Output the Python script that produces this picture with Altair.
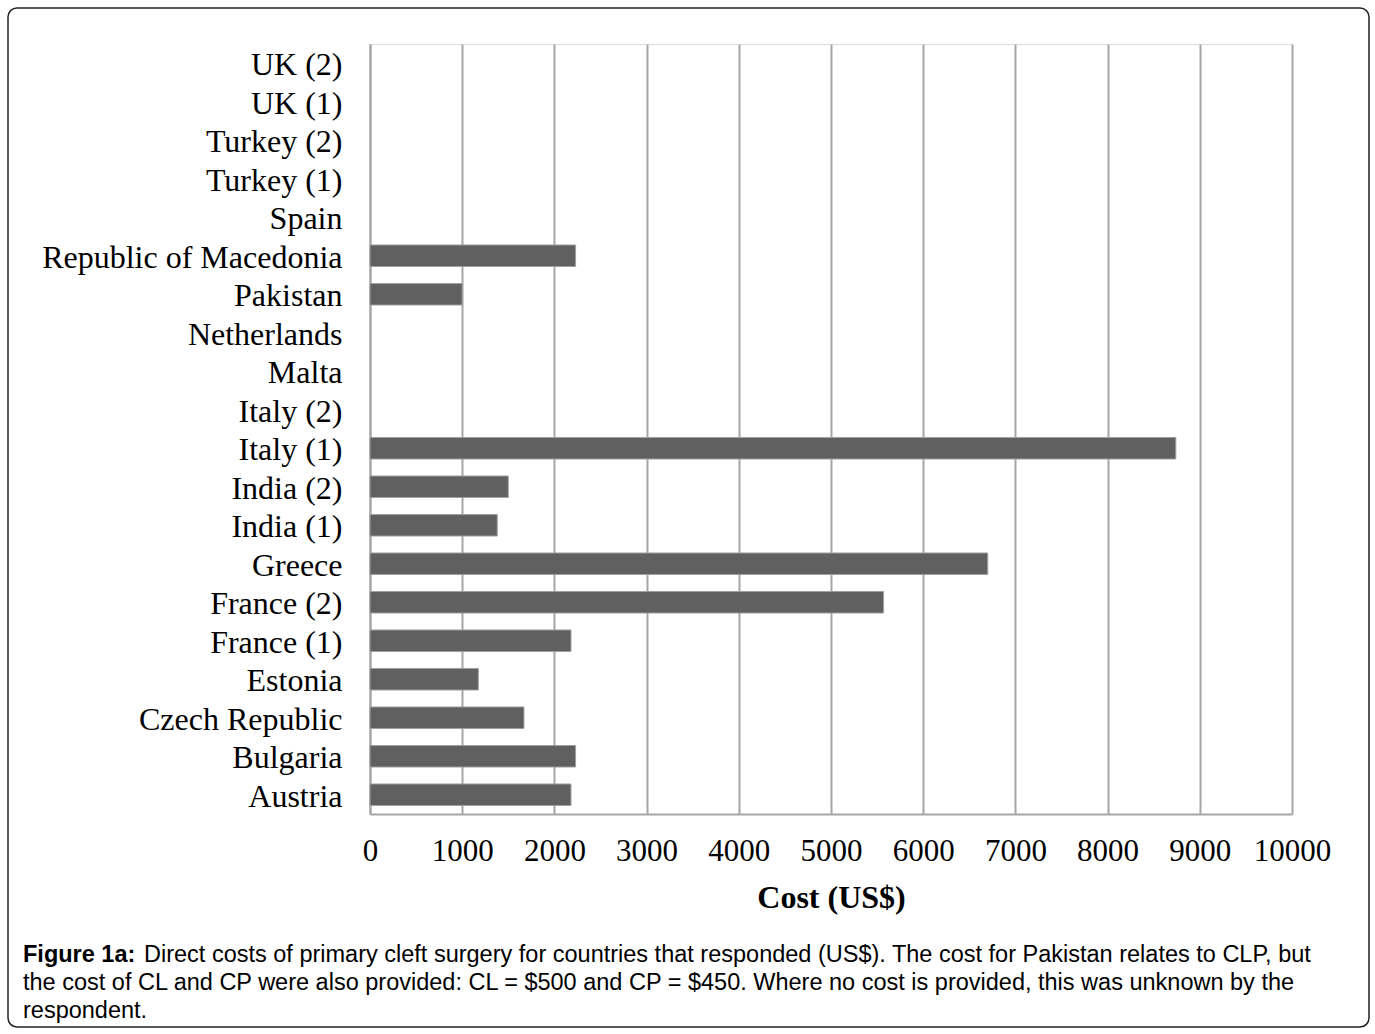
import altair as alt
import pandas as pd

# Countries listed top to bottom; None where the respondent gave no cost
countries = [
    "UK (2)", "UK (1)", "Turkey (2)", "Turkey (1)", "Spain",
    "Republic of Macedonia", "Pakistan ", "Netherlands", "Malta", "Italy (2)",
    "Italy (1)", "India (2)", "India (1)", "Greece", "France (2)",
    "France (1)", "Estonia", "Czech Republic", "Bulgaria", "Austria",
]
costs = [
    None, None, None, None, None,
    2230, 1000, None, None, None,
    8740, 1500, 1380, 6700, 5570,
    2180, 1175, 1670, 2230, 2180,
]
tick_values = [0, 1000, 2000, 3000, 4000, 5000, 6000, 7000, 8000, 9000, 10000]

caption_bold = "Figure 1a:"
caption_lines = [
    "Direct costs of primary cleft surgery for countries that responded (US$). The cost for Pakistan relates to CLP, but",
    "the cost of CL and CP were also provided: CL = $500 and CP = $450. Where no cost is provided, this was unknown by the",
    "respondent.",
]

df = pd.DataFrame({"country": countries, "cost": costs})

# plot-area geometry (pixels); everything outside is drawn relative to it
W, H = 922, 770
LEFT, TOP = 370, 44
TOTAL_W, TOTAL_H = 1375, 1034

serif = "Liberation Serif"
sans = "Liberation Sans"
grey = "#a6a6a6"
cap_size = 23.5

bars = alt.Chart(df).mark_bar(
    color="#606060", stroke="#a0a0a0", strokeWidth=1
).encode(
    x=alt.X(
        "cost:Q",
        scale=alt.Scale(domain=[0, 10000], nice=False),
        axis=alt.Axis(
            values=tick_values, format="d", title="Cost (US$)",
            labelFont=serif, labelFontSize=31, labelColor="black",
            labelPadding=22, labelFlush=False, labelOverlap=False,
            ticks=False, grid=True, gridColor=grey,
            gridWidth=2, domainColor=grey, domainWidth=2,
            titleFont=serif, titleFontSize=32, titleFontWeight="bold",
            titleColor="black", titlePadding=16,
        ),
    ),
    y=alt.Y(
        "country:N",
        sort=countries,
        scale=alt.Scale(domain=countries, paddingInner=0.44, paddingOuter=0.22),
        axis=alt.Axis(
            title=None, labelFont=serif, labelFontSize=32, labelColor="black",
            labelPadding=28, labelLimit=600, labelOffset=2, ticks=False, grid=False,
            domainColor=grey, domainWidth=2,
        ),
    ),
)

one = pd.DataFrame({"k": [0]})

# rounded frame around the whole figure
frame = alt.Chart(one).mark_rect(
    fill="white", fillOpacity=0, stroke="#222222", strokeWidth=1.5, cornerRadius=9
).encode(
    x=alt.value(8 - LEFT), x2=alt.value(1369 - LEFT),
    y=alt.value(8 - TOP), y2=alt.value(1027 - TOP),
)

cap_bold = alt.Chart(one).mark_text(
    text=caption_bold, font=sans, fontSize=cap_size, fontWeight="bold",
    align="left", baseline="middle", color="black",
).encode(x=alt.value(23 - LEFT), y=alt.value(955 - TOP))

cap_df = pd.DataFrame({
    "line": caption_lines,
    "xpos": [144 - LEFT, 23 - LEFT, 23 - LEFT],
    "ypos": [955 - TOP, 983 - TOP, 1011 - TOP],
})
cap_text = alt.Chart(cap_df).mark_text(
    font=sans, fontSize=cap_size, align="left", baseline="middle", color="black",
).encode(
    x=alt.X("xpos:Q", scale=None),
    y=alt.Y("ypos:Q", scale=None),
    text="line:N",
)

chart = alt.layer(frame, bars, cap_bold, cap_text).resolve_scale(
    x="independent", y="independent"
).properties(
    width=W, height=H,
    autosize=alt.AutoSizeParams(type="none"),
    padding={"left": LEFT, "top": TOP, "right": TOTAL_W - LEFT - W, "bottom": TOTAL_H - TOP - H},
).configure_view(stroke=None).configure(background="white")

chart.save("out.html", embed_options={"renderer": "svg", "actions": False})
